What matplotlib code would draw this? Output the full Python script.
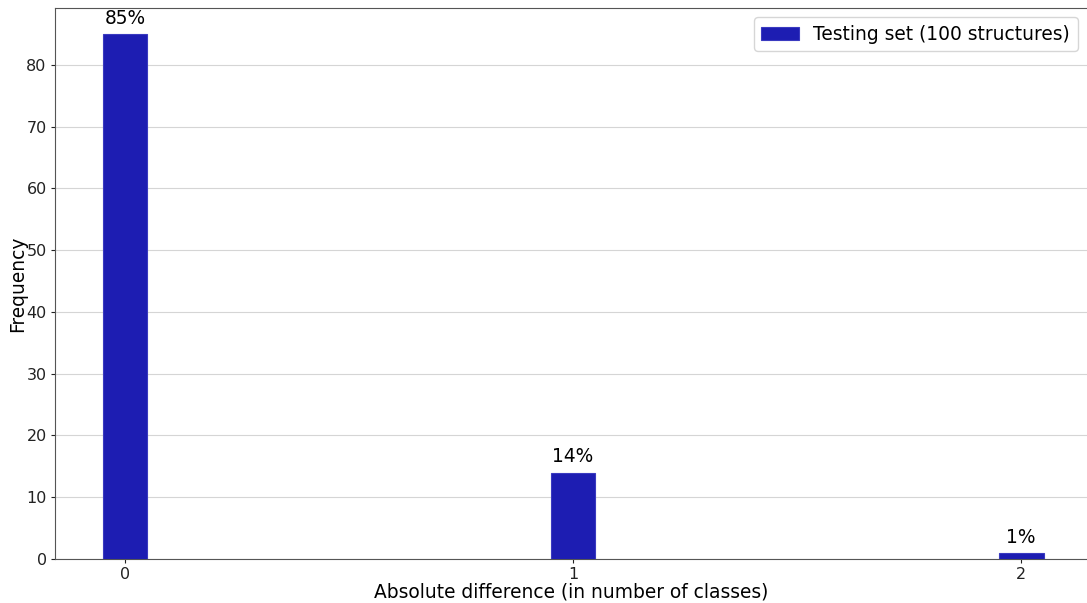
import numpy as np
import matplotlib.pyplot as plt

diffs = [0, 1, 2]
freq = [85, 14, 1]
labels = ['85%', '14%', '1%']

fig = plt.figure(figsize=(10.87, 6.03), dpi=100)
ax = fig.add_axes([0.0506, 0.073, 0.9494, 0.914])

bars = ax.bar(diffs, freq, width=0.1, color='#1d1db2', edgecolor='#3a3ac0',
              linewidth=0.8, label='Testing set (100 structures)', zorder=3)
for b, lab in zip(bars, labels):
    ax.text(b.get_x() + b.get_width() / 2, b.get_height() + 1.0, lab,
            ha='center', va='bottom', fontsize=13.4)

ax.set_xlim(-0.156, 2.147)
ax.set_ylim(0, 89.25)
ax.set_xticks(diffs)
ax.set_yticks(np.arange(0, 90, 10))
ax.tick_params(labelsize=11.5, colors='#222222', length=3, pad=3)
ax.grid(axis='y', color='#d5d5d5', linewidth=0.8, zorder=0)
for s in ax.spines.values():
    s.set_color('#555555')
ax.spines['right'].set_visible(False)

ax.set_xlabel('Absolute difference (in number of classes)', fontsize=13.4, labelpad=0)
ax.set_ylabel('Frequency', fontsize=13.4, labelpad=0)
ax.yaxis.set_label_coords(-0.027, 0.5)
ax.legend(loc='upper right', fontsize=13.4, borderaxespad=0.5)

fig.savefig('out.png', dpi=100)
